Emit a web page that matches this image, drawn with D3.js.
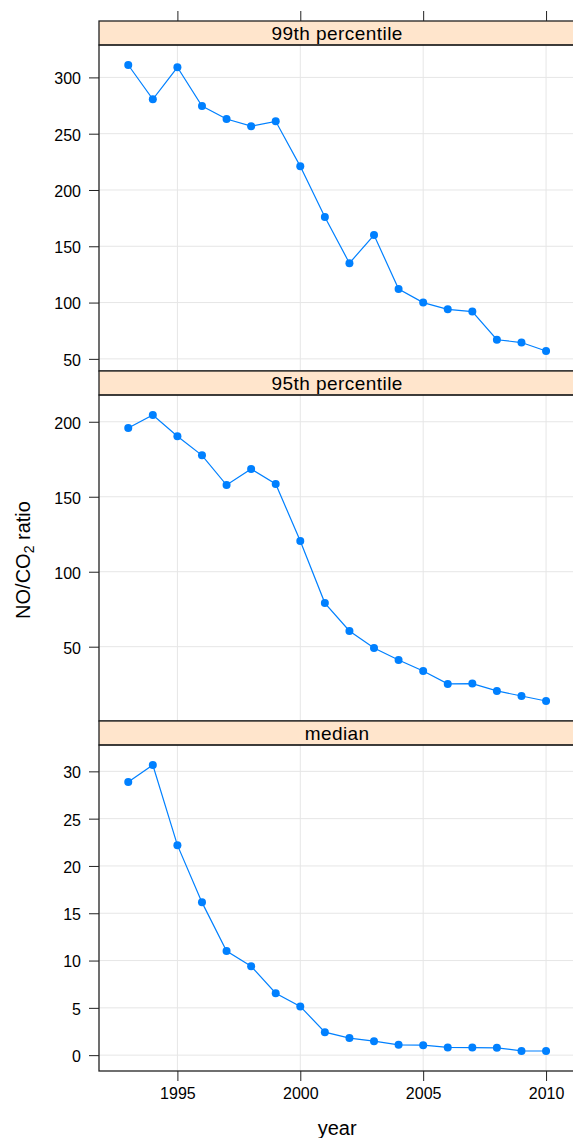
<!DOCTYPE html>
<html>
<head>
<meta charset="utf-8">
<script src="https://cdn.jsdelivr.net/npm/d3@7"></script>
<style>
  body { margin: 0; background: #fff; }
  svg { display: block; font-family: "Liberation Sans", Arial, sans-serif; }
</style>
</head>
<body>
<svg id="chart" width="573" height="1138"></svg>

<script type="text/javascript">
(() => {

// data
let years = [1993, 1994, 1995, 1996, 1997, 1998, 1999, 2000, 2001, 2002, 2003, 2004, 2005, 2006, 2007, 2008, 2009, 2010];
let p99 = [311, 280.5, 309, 274.5, 263, 256.7, 261, 221, 176, 135, 160, 112, 100, 94, 92, 67, 64.5, 57];
let p95 = [195.8, 204.5, 190.3, 177.6, 157.8, 168.5, 158.5, 120.5, 79.1, 60.5, 49.1, 41.1, 33.8, 25.2, 25.4, 20.5, 17.1, 13.8];
let median = [28.87, 30.67, 22.2, 16.15, 11.0, 9.4, 6.55, 5.15, 2.43, 1.8, 1.48, 1.09, 1.05, 0.82, 0.8, 0.77, 0.45, 0.44];

let panelNames = ["99th percentile", "95th percentile", "median"];
let panelValues = [p99, p95, median];
let yTicks = [[50, 100, 150, 200, 250, 300], [50, 100, 150, 200], [0, 5, 10, 15, 20, 25, 30]];
let xTicks = [1995, 2000, 2005, 2010];

var svg = d3.select("#chart");

var left = 99, right = 575.3;
var top0 = 21, stripH = 24, panelH = 326;
var blockH = stripH + panelH;
var lineCol = "#0080ff";
var stripCol = "#ffe5cc";
var gridCol = "#e6e6e6";
var frameCol = "#222";

// lattice style padding: 7% of the range each side
function padded(ext) {
  var d = (ext[1] - ext[0]) * 0.07;
  return [ext[0] - d, ext[1] + d];
}

var x = d3.scaleLinear().domain(padded(d3.extent(years))).range([left, right]);

panelNames.forEach((name, i) => {
  var vals = panelValues[i];
  var stripTop = top0 + i * blockH;
  var pTop = stripTop + stripH;
  var pBot = pTop + panelH;

  var y = d3.scaleLinear().domain(padded(d3.extent(vals))).range([pBot, pTop]);

  var g = svg.append("g");

  // grid
  g.selectAll(".gy").data(yTicks[i]).enter().append("line")
    .attr("x1", left).attr("x2", right)
    .attr("y1", d => y(d)).attr("y2", d => y(d))
    .attr("stroke", gridCol).attr("stroke-width", 1);
  g.selectAll(".gx").data(xTicks).enter().append("line")
    .attr("x1", d => x(d)).attr("x2", d => x(d))
    .attr("y1", pTop).attr("y2", pBot)
    .attr("stroke", gridCol).attr("stroke-width", 1);

  // y axis on the left
  var yAxis = d3.axisLeft(y).tickValues(yTicks[i]).tickSize(10).tickPadding(8).tickFormat(d3.format("d"));
  var ax = g.append("g").attr("transform", "translate(" + left + ",0)").call(yAxis);
  ax.select(".domain").remove();
  ax.selectAll(".tick line").attr("stroke", frameCol);
  ax.selectAll(".tick text")
    .attr("fill", "#000")
    .attr("font-size", 16)
    .attr("font-family", "Liberation Sans, Arial, sans-serif")
    .attr("dy", "0.4em");

  // line and points
  var pts = years.map((yr, j) => ({ year: yr, value: vals[j] }));
  g.append("path")
    .datum(pts)
    .attr("fill", "none")
    .attr("stroke", lineCol)
    .attr("stroke-width", 1.2)
    .attr("d", d3.line().x(d => x(d.year)).y(d => y(d.value)));
  g.selectAll(".pt").data(pts).enter().append("circle")
    .attr("cx", d => x(d.year))
    .attr("cy", d => y(d.value))
    .attr("r", 4)
    .attr("fill", lineCol);

  // strip
  g.append("rect")
    .attr("x", left).attr("y", stripTop)
    .attr("width", right - left).attr("height", stripH)
    .attr("fill", stripCol)
    .attr("stroke", frameCol).attr("stroke-width", 1.3);
  g.append("text")
    .attr("x", (left + right) / 2)
    .attr("y", stripTop + stripH / 2)
    .attr("dy", "0.36em")
    .attr("text-anchor", "middle")
    .attr("font-size", 19)
    .attr("letter-spacing", 0.45)
    .attr("fill", "#000")
    .text(name);

  // panel frame
  g.append("rect")
    .attr("x", left).attr("y", pTop)
    .attr("width", right - left).attr("height", panelH)
    .attr("fill", "none")
    .attr("stroke", frameCol).attr("stroke-width", 1.3);
});

// top ticks (no labels) and bottom axis
var topAxis = d3.axisTop(x).tickValues(xTicks).tickSize(10).tickFormat("");
var ta = svg.append("g").attr("transform", "translate(0," + top0 + ")").call(topAxis);
ta.select(".domain").remove();
ta.selectAll(".tick line").attr("stroke", frameCol);

var bottomY = top0 + 3 * blockH;
var bottomAxis = d3.axisBottom(x).tickValues(xTicks).tickSize(10).tickPadding(7).tickFormat(d3.format("d"));
var ba = svg.append("g").attr("transform", "translate(0," + bottomY + ")").call(bottomAxis);
ba.select(".domain").remove();
ba.selectAll(".tick line").attr("stroke", frameCol);
ba.selectAll(".tick text")
  .attr("fill", "#000")
  .attr("font-size", 16)
  .attr("font-family", "Liberation Sans, Arial, sans-serif");

// axis titles
svg.append("text")
  .attr("x", (left + right) / 2)
  .attr("y", 1135)
  .attr("text-anchor", "middle")
  .attr("font-size", 20)
  .attr("fill", "#000")
  .text("year");

var yl = svg.append("text")
  .attr("transform", "translate(30,560) rotate(-90)")
  .attr("text-anchor", "middle")
  .attr("font-size", 20)
  .attr("fill", "#000");
yl.append("tspan").text("NO/CO");
yl.append("tspan").attr("font-size", 14).attr("dy", 4).text("2");
yl.append("tspan").attr("dy", -4).text(" ratio");

})();
</script>
</body>
</html>
